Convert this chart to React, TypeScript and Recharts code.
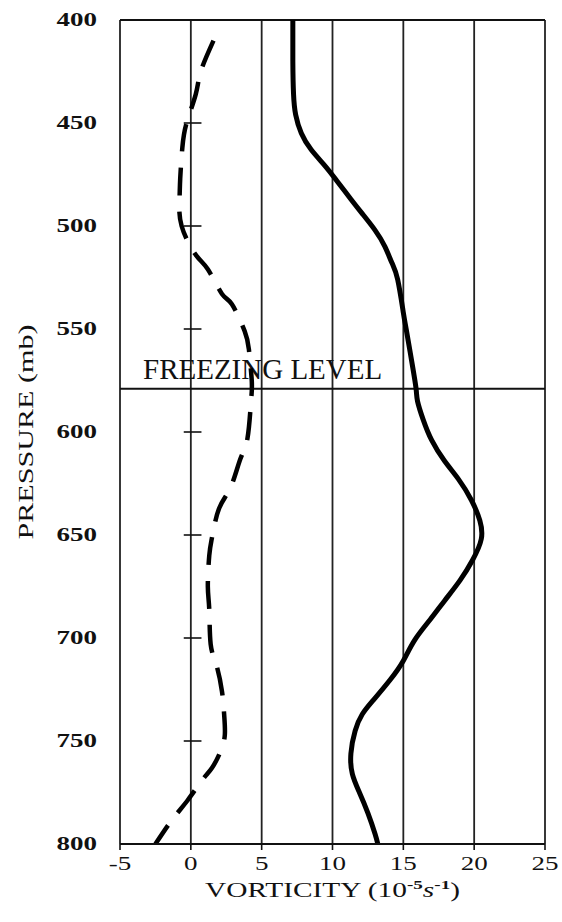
import { CartesianGrid, Line, LineChart, ReferenceLine, XAxis, YAxis } from "recharts";

// solid profile (pressure in mb, vorticity in 1e-5 s^-1)
const solidPressure = [400, 420, 436, 446, 455, 463, 471, 478, 487, 494, 502, 510, 518, 526, 542, 550, 566, 579, 585, 594, 604, 614, 623, 633, 643, 652, 662, 672, 682, 691, 701, 711, 720, 730, 737, 745, 756, 766, 775, 785, 795, 800];
const solidVorticity = [7.2, 7.2, 7.25, 7.4, 7.8, 8.5, 9.5, 10.3, 11.3, 12.1, 13.0, 13.7, 14.2, 14.6, 15.0, 15.2, 15.6, 15.9, 16.0, 16.4, 17.0, 17.9, 18.9, 19.8, 20.4, 20.5, 19.9, 19.0, 17.9, 16.9, 15.8, 15.0, 14.1, 12.9, 12.1, 11.6, 11.3, 11.4, 11.9, 12.5, 13.0, 13.2];

// dashed profile
const dashedPressure = [410, 425, 436, 450, 462, 477, 487, 500, 514, 521, 533, 538, 551, 560, 575, 585, 603, 613, 627, 637, 651, 660, 675, 686, 703, 713, 726, 737, 747, 755, 763, 769, 779, 788, 800];
const dashedVorticity = [1.6, 0.7, 0.35, -0.3, -0.6, -0.75, -0.8, -0.65, 0.35, 1.2, 2.2, 2.9, 3.8, 4.1, 4.3, 4.25, 4.0, 3.5, 2.8, 2.0, 1.5, 1.3, 1.2, 1.3, 1.4, 1.8, 2.2, 2.35, 2.4, 2.1, 1.5, 0.8, -0.25, -1.3, -2.5];

const pressureTicks = [400, 450, 500, 550, 600, 650, 700, 750, 800];
const vorticityTicks = [-5, 0, 5, 10, 15, 20, 25];
const freezingLevel = 579;

const solidData = solidPressure.map((p, i) => ({ p, v: solidVorticity[i] }));
const dashedData = dashedPressure.map((p, i) => ({ p, v: dashedVorticity[i] }));
const innerTicks = pressureTicks.slice(1, -1);

const serif = "'Liberation Serif', 'Times New Roman', serif";

function PressureTick({ x, y, payload }: any) {
  return (
    <g transform={`translate(${x - 15},${y})`}>
      <text transform="scale(1.42,1)" textAnchor="end" dy="0.34em" fontFamily={serif} fontWeight="bold" fontSize={19} fill="#111">
        {payload.value}
      </text>
    </g>
  );
}

function VorticityTick({ x, y, payload }: any) {
  return (
    <g transform={`translate(${x},${y + 18})`}>
      <text transform="scale(1.5,1)" textAnchor="middle" fontFamily={serif} fontSize={18} fill="#111">
        {payload.value}
      </text>
    </g>
  );
}

function PressureTitle({ viewBox }: any) {
  const cx = viewBox.x + 13;
  const cy = viewBox.y + viewBox.height / 2;
  return (
    <text
      transform={`translate(${cx},${cy}) rotate(-90)`}
      textAnchor="middle"
      fontFamily={serif}
      fontSize={22}
      textLength={215}
      lengthAdjust="spacingAndGlyphs"
      fill="#111"
    >
      PRESSURE (mb)
    </text>
  );
}

function VorticityTitle({ viewBox }: any) {
  const cx = viewBox.x + viewBox.width / 2;
  return (
    <g transform={`translate(${cx},${viewBox.y + 53})`}>
      <text transform="scale(1.47,1)" textAnchor="middle" fontFamily={serif} fontSize={20} fill="#111">
        VORTICITY (10
        <tspan fontSize={13} fontWeight="bold" dy={-8}>-5</tspan>
        <tspan fontStyle="italic" dy={8}>s</tspan>
        <tspan fontSize={13} fontWeight="bold" dy={-8}>-1</tspan>
        <tspan dy={8}>)</tspan>
      </text>
    </g>
  );
}

function FreezingLabel({ viewBox }: any) {
  return (
    <text x={viewBox.x + 23} y={viewBox.y - 10} fontFamily={serif} fontSize={29} fill="#111">
      FREEZING LEVEL
    </text>
  );
}

export default function App() {
  return (
    <div style={{ position: "absolute", left: 0, top: 0, background: "#fff" }}>
      <LineChart width={562} height={922} layout="vertical" margin={{ top: 20, right: 17, bottom: 18, left: 20 }}>
        <CartesianGrid horizontal={false} stroke="#222" strokeWidth={1.8} />
        <XAxis
          type="number"
          domain={[-5, 25]}
          ticks={vorticityTicks}
          allowDataOverflow
          height={60}
          axisLine={{ stroke: "#111", strokeWidth: 2 }}
          tickLine={{ stroke: "#111", strokeWidth: 1.6 }}
          tickSize={6}
          tick={<VorticityTick />}
          label={{ content: <VorticityTitle /> }}
        />
        <YAxis
          type="number"
          dataKey="p"
          domain={[400, 800]}
          ticks={pressureTicks}
          allowDataOverflow
          width={100}
          axisLine={false}
          tickLine={false}
          tick={<PressureTick />}
          label={{ content: <PressureTitle /> }}
        />
        <ReferenceLine y={400} stroke="#111" strokeWidth={2} />
        {innerTicks.map((p) => (
          <ReferenceLine
            key={p}
            segment={[
              { x: -0.5, y: p },
              { x: 0.75, y: p }
            ]}
            stroke="#111"
            strokeWidth={1.6}
          />
        ))}
        <ReferenceLine y={freezingLevel} stroke="#111" strokeWidth={2} label={{ content: <FreezingLabel /> }} />
        <Line
          data={solidData}
          dataKey="v"
          type="natural"
          stroke="#000"
          strokeWidth={5}
          dot={false}
          isAnimationActive={false}
        />
        <Line
          data={dashedData}
          dataKey="v"
          type="natural"
          stroke="#000"
          strokeWidth={4.5}
          strokeDasharray="28 16"
          dot={false}
          isAnimationActive={false}
        />
      </LineChart>
    </div>
  );
}
